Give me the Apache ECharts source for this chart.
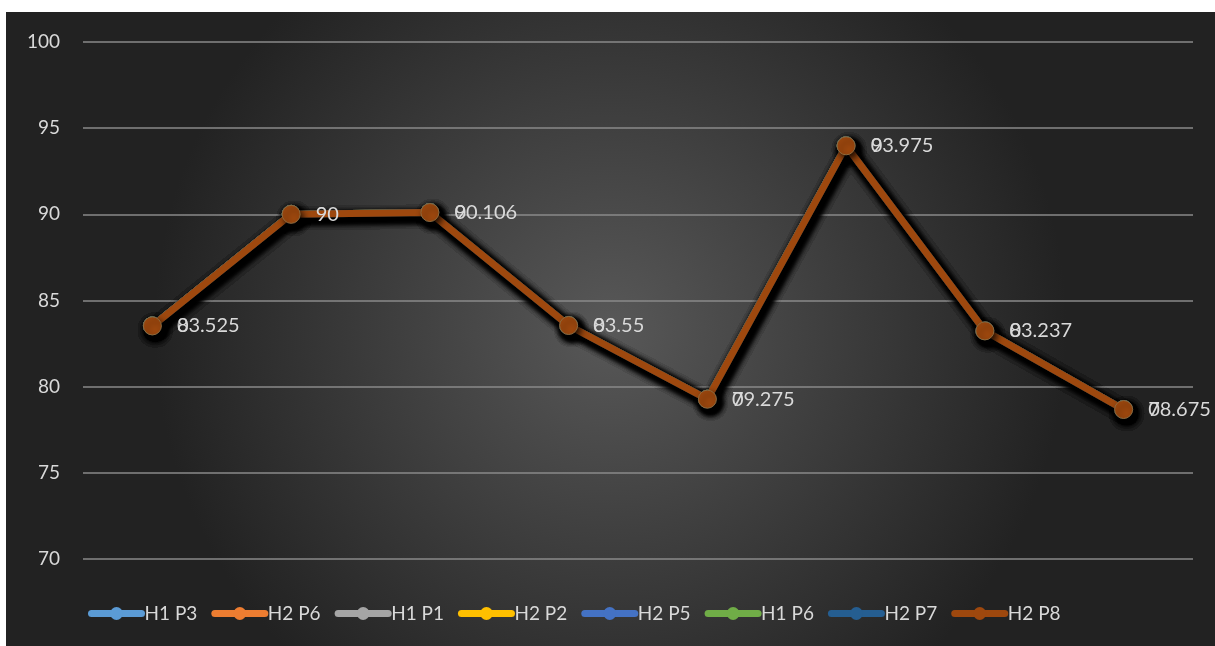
<!DOCTYPE html>
<html><head><meta charset="utf-8">
<script src="https://cdn.jsdelivr.net/npm/echarts@6/dist/echarts.min.js"></script>
<style>html,body{margin:0;padding:0;background:#fff}#c{width:1215px;height:646px}</style>
</head><body><div id="c"></div>
<script>
var categories = ['1','2','3','4','5','6','7','8'];
var seriesNames = ['H1 P3','H2 P6','H1 P1','H2 P2','H2 P5','H1 P6','H2 P7','H2 P8'];
var seriesColors = ['#5B9BD5','#ED7D31','#A5A5A5','#FFC000','#4472C4','#70AD47','#255E91','#9E480E'];
var values = [83.525, 90, 90.106, 83.55, 79.275, 93.975, 83.237, 78.675];
var yTicks = {min:70, max:100, interval:5};

var chart = echarts.init(document.getElementById('c'));
var font = 'Lato, "Open Sans", sans-serif';
var series = seriesNames.map(function(name, i){
  var last = i === seriesNames.length - 1;
  var first = i === 0;
  return {
    name: name, type: 'line', data: values,
    symbol: 'circle', symbolSize: 18,
    itemStyle: {color: seriesColors[i], borderColor: last ? '#8f6a3c' : seriesColors[i], borderWidth: 1,
      shadowColor: 'rgba(0,0,0,0.85)', shadowBlur: 7, shadowOffsetX: 3, shadowOffsetY: 4},
    lineStyle: {color: seriesColors[i], width: 7, cap:'round', join:'round',
      shadowColor: 'rgba(0,0,0,0.85)', shadowBlur: 7, shadowOffsetX: 3, shadowOffsetY: 4},
    label: {show: first || last, position: 'right', distance: 15,
      color: '#d9d9d9', fontSize: 20, fontFamily: font,
      formatter: first ? function(){return '0';} : function(p){return String(p.value);}},
    emphasis: {disabled: true},
    z: 2 + i
  };
});

chart.setOption({
  animation: false,
  backgroundColor: '#ffffff',
  graphic: [{type:'rect', z:-10, shape:{x:6,y:12,width:1209,height:634},
    style:{fill:{type:'radial', x:0.5, y:0.5, r:0.72,
      colorStops:[{offset:0,color:'#585858'},{offset:1,color:'#222222'}]}}}],
  grid: {left: 83, right: 22, top: 42, bottom: 87},
  xAxis: {type:'category', data: categories, boundaryGap: true,
    axisLine:{show:false}, axisTick:{show:false}, axisLabel:{show:false}, splitLine:{show:false}},
  yAxis: {type:'value', min: yTicks.min, max: yTicks.max, interval: yTicks.interval,
    axisLine:{show:false}, axisTick:{show:false},
    axisLabel:{color:'#d9d9d9', fontSize:19, fontFamily: font, margin: 23},
    splitLine:{lineStyle:{color:'#8a8a8a', width:1.5}}},
  legend: {bottom: 18, left: 83, itemWidth: 50, itemHeight: 16, itemGap: 14,
    itemStyle: {shadowBlur:0, shadowOffsetX:0, shadowOffsetY:0, borderWidth:0},
    lineStyle: {width: 7, cap:'round', shadowBlur:0, shadowOffsetX:0, shadowOffsetY:0},
    textStyle:{color:'#d9d9d9', fontSize:19, fontFamily: font, padding:[0,0,0,-2]},
    data: seriesNames},
  series: series
});
</script></body></html>
